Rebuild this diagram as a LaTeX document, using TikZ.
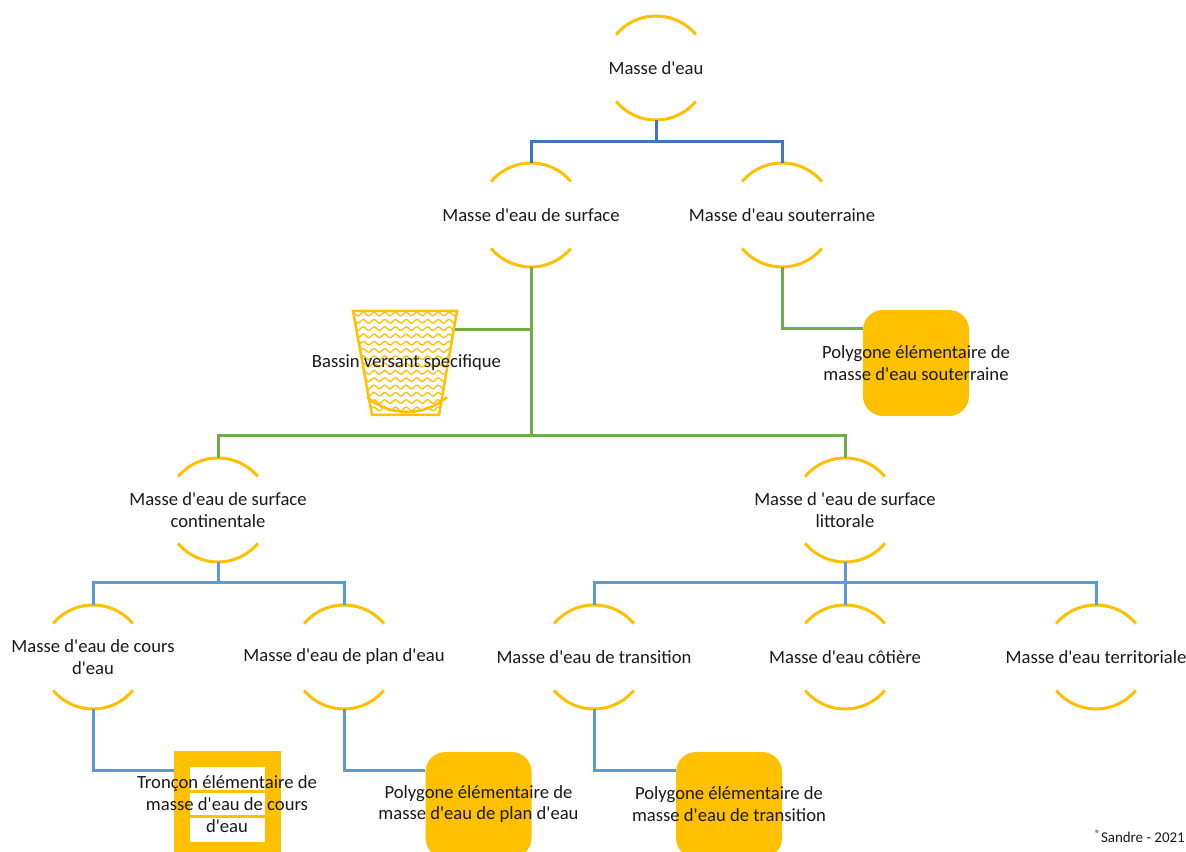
\documentclass[tikz,border=0pt]{standalone}
\usepackage{fontspec}
\setmainfont{Carlito}
\usetikzlibrary{calc}
\definecolor{gold}{HTML}{FFC000}
\definecolor{dblue}{HTML}{4472C4}
\definecolor{lgreen}{HTML}{70AD47}
\definecolor{lblue}{HTML}{5B9BD5}
\definecolor{txt}{HTML}{1A1A1A}
\newcommand\q{\textquotesingle}
\tikzset{
  mtext/.style={align=center,inner sep=0pt,text=txt,font=\fontsize{18.7}{22}\selectfont},
  arcline/.style={draw=gold,line width=3bp},
  cblue/.style={draw=dblue,line width=3bp},
  cgreen/.style={draw=lgreen,line width=3bp},
  clblue/.style={draw=lblue,line width=3bp},
  pbox/.style={fill=gold,draw=none,rounded corners=20bp,minimum width=106bp,minimum height=106bp,inner sep=0pt},
  wave/.style={draw=gold,line width=1.3bp},
}
\newcommand\massnode[3]{%
  \node[mtext] (#1) at (#2) {#3};
  \coordinate (#1-t) at ($(#1.center)+(0,52)$);
  \coordinate (#1-b) at ($(#1.center)+(0,-52)$);
  \draw[arcline] ($(#1.center)+(40:52bp)$) arc[start angle=40,end angle=140,radius=52bp];
  \draw[arcline] ($(#1.center)+(220:52bp)$) arc[start angle=220,end angle=320,radius=52bp];}
\begin{document}
\begin{tikzpicture}[x=1bp,y=1bp]
\useasboundingbox (0,0) rectangle (1186,852);
\clip (0,0) rectangle (1186,852);
\fill[white] (0,0) rectangle (1186,852);

% circle-arc nodes
\massnode{eau}{656,784}{Masse d\q eau}
\massnode{surf}{531,637}{Masse d\q eau de surface}
\massnode{sout}{782,637}{Masse d\q eau souterraine}
\massnode{cont}{218,342}{Masse d\q eau de surface\\continentale}
\massnode{litt}{845,342}{Masse d \q eau de surface\\littorale}
\massnode{cours}{93,195}{Masse d\q eau de cours\\d\q eau}
\massnode{plan}{344,195}{Masse d\q eau de plan d\q eau}
\massnode{trans}{594,195}{Masse d\q eau de transition}
\massnode{cot}{845,195}{Masse d\q eau côtière}
\massnode{terr}{1096,195}{Masse d\q eau territoriale}

% boxes
\node[pbox] (soutbox) at (916,489) {};
\node[pbox] (planbox) at (478.5,47) {};
\node[pbox] (transbox) at (729,47) {};
\node[fill=gold,draw=none,minimum width=107bp,minimum height=112bp,inner sep=0pt] (tronbox) at (227.5,45) {};
\fill[white] (190,62) rectangle (265,85);
\fill[white] (190,37) rectangle (265,59);
\fill[white] (190,10) rectangle (265,34);

% bassin versant
\fill[white] (353,541) -- (457,541) -- (439,437) -- (372,437) -- cycle;
\begin{scope}
\clip (353,541) -- (457,541) -- (439,437) -- (372,437) -- cycle;
\foreach \i in {0,...,14}{
  \draw[wave] plot[domain=348:462,samples=100,smooth] (\x,{538-7.3*\i+1.8*sin(33.64*(\x-350))});
}
\end{scope}
\draw[gold,line width=2.5bp,line join=miter] (353,541) -- (457,541) -- (439,437) -- (372,437) -- cycle;
\draw[gold,line width=2.5bp] (367,455) arc[start angle=229,end angle=311,radius=61bp];
\coordinate (bas-r) at (455,522);

% connectors
\draw[cblue] (eau-b) -- ++(0,-22) -| (surf-t);
\draw[cblue] (eau-b) -- ++(0,-22) -| (sout-t);
\draw[cgreen] (surf-b) -- ++(0,-169) -| (cont-t);
\draw[cgreen] (surf-b) -- ++(0,-169) -| (litt-t);
\draw[cgreen] (bas-r) -- (bas-r -| surf-b);
\draw[cgreen] (sout-b) |- ($(soutbox.north west)+(0,-19)$);
\draw[clblue] (cont-b) -- ++(0,-21) -| (cours-t);
\draw[clblue] (cont-b) -- ++(0,-21) -| (plan-t);
\draw[clblue] (litt-b) -- ++(0,-21) -| (trans-t);
\draw[clblue] (litt-b) -- ++(0,-21) -| (cot-t);
\draw[clblue] (litt-b) -- ++(0,-21) -| (terr-t);
\draw[clblue] (cours-b) |- ($(tronbox.north west)+(0,-20)$);
\draw[clblue] (plan-b) |- ($(planbox.north west)+(0,-19)$);
\draw[clblue] (trans-b) |- ($(transbox.north west)+(0,-19)$);

% texts
\node[mtext] (bastext) at (406.5,489) {Bassin versant specifique};
\node[mtext] (souttext) at (916,489) {Polygone élémentaire de\\masse d\q eau souterraine};
\node[mtext] (plantext) at (478.5,48) {Polygone élémentaire de\\masse d\q eau de plan d\q eau};
\node[mtext] (transtext) at (729,48) {Polygone élémentaire de\\masse d\q eau de transition};
\node[mtext] (trontext) at (227,48) {Tronçon élémentaire de\\masse d\q eau de cours\\d\q eau};
\node[anchor=base east,inner sep=0pt,text=txt,font=\fontsize{15}{18}\selectfont] (copy) at (1185,9) {\textsuperscript{®}Sandre - 2021};
\end{tikzpicture}
\end{document}
